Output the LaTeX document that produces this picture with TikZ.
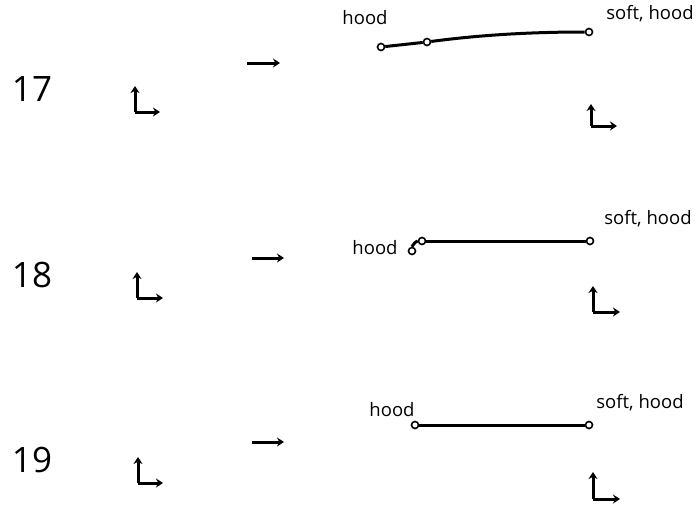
\documentclass[tikz,border=0pt]{standalone}
\usepackage{fontspec}
\setmainfont{Open Sans}
\usetikzlibrary{arrows.meta}
\tikzset{
  knot/.style={circle,draw,fill=white,line width=1.6pt,inner sep=0pt,minimum size=7pt},
  wire/.style={line width=3pt},
  frame/.style={line width=3pt,-{Stealth[length=7pt,width=9pt]}},
  rowno/.style={font=\fontsize{35}{35}\selectfont},
  tag/.style={font=\fontsize{18.5}{18.5}\selectfont},
}
\begin{document}
\begin{tikzpicture}[x=1pt,y=-1pt]
  \useasboundingbox (0,0) rectangle (698,506);

  % row 17
  \node[rowno] (n17) at (32,89) {17};
  \coordinate (o17l) at (135,112);
  \coordinate (u17l) at (135,86);
  \coordinate (r17l) at (160,112);
  \draw[frame] (o17l) -- (u17l);
  \draw[frame] (o17l) -- (r17l);
  \coordinate (s17) at (247,63);
  \coordinate (e17) at (280,63);
  \draw[frame] (s17) -- (e17);
  \node[knot] (a17) at (381,47) {};
  \node[knot] (b17) at (427,42) {};
  \node[knot] (c17) at (589,32) {};
  \draw[wire] (a17) -- (b17);
  \draw[wire] (b17) .. controls (480,35) and (530,32) .. (c17);
  \node[tag] (h17) at (365,18) {hood};
  \node[tag] (sh17) at (650,14) {soft, hood};
  \coordinate (o17r) at (591,126);
  \coordinate (u17r) at (591,104);
  \coordinate (r17r) at (617,126);
  \draw[frame] (o17r) -- (u17r);
  \draw[frame] (o17r) -- (r17r);

  % row 18
  \node[rowno] (n18) at (32,275) {18};
  \coordinate (o18l) at (137,298);
  \coordinate (u18l) at (137,272);
  \coordinate (r18l) at (163,298);
  \draw[frame] (o18l) -- (u18l);
  \draw[frame] (o18l) -- (r18l);
  \coordinate (s18) at (252,258);
  \coordinate (e18) at (284,258);
  \draw[frame] (s18) -- (e18);
  \node[knot] (a18) at (412,251) {};
  \node[knot] (b18) at (422,241) {};
  \node[knot] (c18) at (590,241) {};
  \draw[wire] (a18) .. controls (412,246) and (416,241) .. (b18);
  \draw[wire] (b18) -- (c18);
  \node[tag] (h18) at (375,248) {hood};
  \node[tag] (sh18) at (648,219) {soft, hood};
  \coordinate (o18r) at (593,312);
  \coordinate (u18r) at (593,286);
  \coordinate (r18r) at (620,312);
  \draw[frame] (o18r) -- (u18r);
  \draw[frame] (o18r) -- (r18r);

  % row 19
  \node[rowno] (n19) at (32,460) {19};
  \coordinate (o19l) at (138,483);
  \coordinate (u19l) at (138,457);
  \coordinate (r19l) at (163,483);
  \draw[frame] (o19l) -- (u19l);
  \draw[frame] (o19l) -- (r19l);
  \coordinate (s19) at (252,442);
  \coordinate (e19) at (284,442);
  \draw[frame] (s19) -- (e19);
  \node[knot] (a19) at (415,425) {};
  \node[knot] (c19) at (589,425) {};
  \draw[wire] (a19) -- (c19);
  \node[tag] (h19) at (392,410) {hood};
  \node[tag] (sh19) at (640,403) {soft, hood};
  \coordinate (o19r) at (593,499);
  \coordinate (u19r) at (593,472);
  \coordinate (r19r) at (620,499);
  \draw[frame] (o19r) -- (u19r);
  \draw[frame] (o19r) -- (r19r);
\end{tikzpicture}
\end{document}
